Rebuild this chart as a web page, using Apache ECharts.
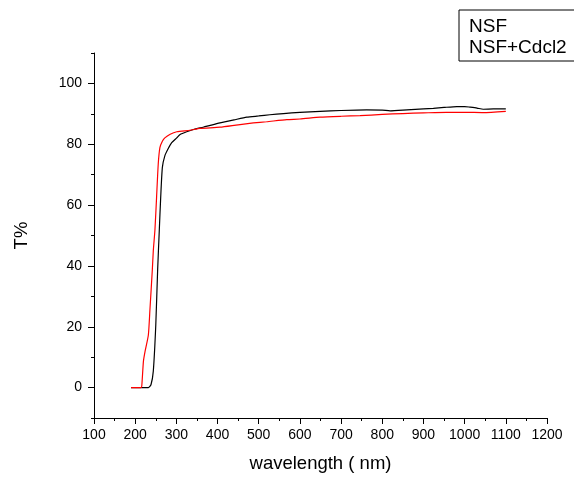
<!DOCTYPE html>
<html>
<head>
<meta charset="utf-8">
<script src="https://cdn.jsdelivr.net/npm/echarts@6/dist/echarts.min.js"></script>
<style>html,body{margin:0;padding:0;background:#fff}#c{width:574px;height:478px}</style>
</head>
<body>
<div id="c"></div>
<script>
var seriesNames = ['NSF', 'NSF+Cdcl2'];
var xNSF = [190, 200, 220, 232, 238.5, 244, 250, 254.6, 258.6, 262, 266, 272, 280, 288.7, 301, 309, 325, 345, 365, 385, 406, 440, 471, 500, 527, 560, 600, 649, 700, 762, 800, 819, 860, 900, 924, 950, 981, 1000, 1013, 1030, 1045, 1070, 1100];
var yNSF = [0, 0, 0, 0, 1, 5.4, 20.5, 38.9, 51.9, 62.7, 72.4, 76.2, 78.5, 80.5, 82.1, 83.2, 84.1, 85, 85.6, 86.3, 87, 88, 88.9, 89.3, 89.7, 90.1, 90.5, 90.8, 91.1, 91.3, 91.2, 91, 91.3, 91.6, 91.8, 92.1, 92.4, 92.4, 92.2, 91.9, 91.5, 91.6, 91.6];
var xCd = [190, 200, 214, 216, 220, 224, 232, 236, 241.7, 244, 248, 252, 256, 260, 266, 272, 285, 301, 333, 357, 406, 450, 487, 519, 568, 600, 649, 700, 746, 800, 850, 900, 956, 1000, 1045, 1100];
var yCd = [0, 0, 0, 0.5, 8.6, 11.9, 17.3, 26, 38.9, 45, 51.9, 62.7, 73.5, 78.9, 81, 82.1, 83.3, 84.1, 84.6, 85.2, 85.6, 86.4, 87, 87.4, 88.1, 88.3, 88.9, 89.2, 89.4, 89.8, 90.1, 90.3, 90.5, 90.5, 90.4, 90.8];
var yMajor = [0, 20, 40, 60, 80, 100];
var yMinor = [-10, 10, 30, 50, 70, 90, 110];

function pairs(xs, ys) { return xs.map(function (x, i) { return [x, ys[i]]; }); }

var font = 'Liberation Sans, Arial, sans-serif';
var chart = echarts.init(document.getElementById('c'), null, {renderer: 'canvas'});
chart.setOption({
  animation: false,
  backgroundColor: '#fff',
  textStyle: {fontFamily: font},
  grid: {left: 94, right: 27, top: 53, bottom: 57, containLabel: false},
  legend: {
    data: seriesNames,
    orient: 'vertical',
    left: 459, top: 10,
    icon: 'none', itemWidth: 0, itemHeight: 21, itemGap: 0,
    padding: [6, 24, 3, 5],
    borderColor: '#000', borderWidth: 1, borderRadius: 0,
    textStyle: {fontFamily: font, fontSize: 19, color: '#000', lineHeight: 21}
  },
  xAxis: {
    type: 'value', min: 100, max: 1200, interval: 100,
    name: 'wavelength ( nm)', nameLocation: 'middle', nameGap: 36,
    nameTextStyle: {fontFamily: font, fontSize: 18.5, color: '#000'},
    axisLine: {onZero: false, lineStyle: {color: '#000', width: 1}},
    axisTick: {length: 6, lineStyle: {color: '#000'}},
    minorTick: {show: true, splitNumber: 2, length: 3, lineStyle: {color: '#000'}},
    axisLabel: {fontFamily: font, fontSize: 14, color: '#000', margin: 10,
      formatter: function (v) { return String(v); }},
    splitLine: {show: false}
  },
  yAxis: [{
    type: 'value', min: -10, max: 110,
    name: 'T%', nameLocation: 'middle', nameGap: 63, nameRotate: 90,
    nameTextStyle: {fontFamily: font, fontSize: 18.5, color: '#000'},
    axisLine: {show: true, onZero: false, lineStyle: {color: '#000', width: 1}},
    axisTick: {show: true, length: 6, customValues: yMajor, lineStyle: {color: '#000'}},
    axisLabel: {fontFamily: font, fontSize: 14, color: '#000', margin: 12, customValues: yMajor},
    splitLine: {show: false}
  }, {
    type: 'value', min: -10, max: 110, position: 'left',
    axisLine: {show: false},
    axisTick: {show: true, length: 3, customValues: yMinor, lineStyle: {color: '#000'}},
    axisLabel: {show: false},
    splitLine: {show: false}
  }],
  series: [{
    name: seriesNames[0], type: 'line', yAxisIndex: 0,
    data: pairs(xNSF, yNSF), showSymbol: false, smooth: 0.2,
    lineStyle: {color: '#000', width: 1.2}, itemStyle: {color: '#000'}
  }, {
    name: seriesNames[1], type: 'line', yAxisIndex: 0,
    data: pairs(xCd, yCd), showSymbol: false, smooth: 0.2,
    lineStyle: {color: '#ff0000', width: 1.2}, itemStyle: {color: '#ff0000'}
  }]
});
</script>
</body>
</html>
